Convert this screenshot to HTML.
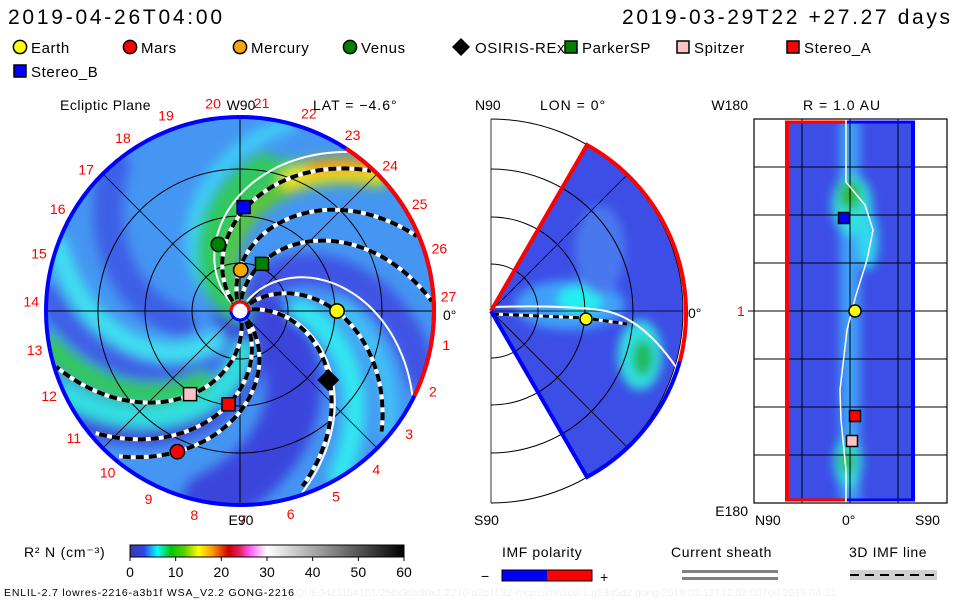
<!DOCTYPE html>
<html><head><meta charset="utf-8"><style>
body{margin:0;background:#fff;width:960px;height:600px;overflow:hidden;font-family:"Liberation Sans",sans-serif}
svg text{font-family:"Liberation Sans",sans-serif}
</style></head><body>
<svg id="s" width="960" height="600" viewBox="0 0 960 600" xmlns="http://www.w3.org/2000/svg">
<defs>
<filter id="bl" x="-20%" y="-20%" width="140%" height="140%"><feGaussianBlur stdDeviation="6"/></filter>
<filter id="bl2" x="-50%" y="-50%" width="200%" height="200%"><feGaussianBlur stdDeviation="5"/></filter>
<clipPath id="cc"><circle cx="240" cy="311" r="194"/></clipPath>
<clipPath id="wc"><path d="M491,311 L587,145 A192,192 0 0 1 587,477 Z"/></clipPath>
<clipPath id="rc"><rect x="785" y="121" width="130" height="380"/></clipPath>
<linearGradient id="cb" x1="0" x2="1" y1="0" y2="0">
<stop offset="0" stop-color="#3c3ca0"/><stop offset="0.05" stop-color="#3040f0"/><stop offset="0.1" stop-color="#00ffff"/><stop offset="0.15" stop-color="#00c800"/><stop offset="0.2" stop-color="#60d000"/><stop offset="0.25" stop-color="#ffff00"/><stop offset="0.3" stop-color="#ff9900"/><stop offset="0.36" stop-color="#d00000"/><stop offset="0.4" stop-color="#e02060"/><stop offset="0.44" stop-color="#ff60ff"/><stop offset="0.48" stop-color="#ffd0ff"/><stop offset="0.5" stop-color="#ffffff"/><stop offset="1" stop-color="#000000"/>
</linearGradient>
</defs>
<g id="g"></g>
</svg>
<script>
// ---- data ----
const bodyNames=["Earth","Mars","Mercury","Venus","OSIRIS-REx","ParkerSP","Spitzer","Stereo_A","Stereo_B"];
const bodyAngles=[0,-114,89,108,-38,65,-121,-97,88];   // ecliptic longitude (deg, screen)
const bodyRadii=[97,154,41,70,112,52,97,94,104];        // px from sun
const bodyColors=["#ffff00","#ff0000","#ffa500","#008000","#000000","#008000","#ffc0cb","#ff0000","#0000ff"];
const bodyShapes=["c","c","c","c","d","s","s","s","s"];
const imfLineOuter=[46,22,2,-44,-74,-132,-142,-164];
const imfLineEnd=[194,194,194,187,188,190,190,194];
const sheetOuter=[55,-27,-72];
const cbTicks=[0,10,20,30,40,50,60];
const dayLabels=[27,1,2,3,4,5,6,7,8,9,10,11,12,13,14,15,16,17,18,19,20,21,22,23,24,25,26];
// -----------
const NS="http://www.w3.org/2000/svg", G=document.getElementById('g');
const cx=240,cy=311,R=194,K=0.45;
function el(t,a,p){const e=document.createElementNS(NS,t);for(const k in a)e.setAttribute(k,a[k]);(p||G).appendChild(e);return e;}
function spiral(phiOut,r0,r1){let d="";for(let r=r0;r<=r1;r+=3){const f=(phiOut+K*(R-r))*Math.PI/180;d+=(d?"L":"M")+(cx+r*Math.cos(f)).toFixed(1)+","+(cy-r*Math.sin(f)).toFixed(1);}return d;}
function pol(a,r){const f=a*Math.PI/180;return [cx+r*Math.cos(f),cy-r*Math.sin(f)];}
function txt(x,y,s,o,p){const e=el('text',Object.assign({x:x,y:y,'font-size':15,fill:'#000'},o||{}),p);e.textContent=s;return e;}

// header
let t=txt(8,24,"2019-04-26T04:00",{'font-size':21,textLength:214,lengthAdjust:'spacing'});
t=txt(622,24,"2019-03-29T22 +27.27 days",{'font-size':21,textLength:328,lengthAdjust:'spacing'});
// legend
const legX=[20,130,240,350,461,571,683,793,20],legY=[48,48,48,48,48,48,48,48,72];
function marker(shape,x,y,col,sz,parent){let e;
 if(shape=="c")e=el('circle',{cx:x,cy:y,r:sz*0.55,fill:col,stroke:'#000','stroke-width':1.5},parent);
 else if(shape=="d")e=el('path',{d:`M${x},${y-sz}L${x+sz},${y}L${x},${y+sz}L${x-sz},${y}Z`,fill:col},parent);
 else e=el('rect',{x:x-sz*0.5,y:y-sz*0.5,width:sz,height:sz,fill:col,stroke:'#000','stroke-width':1.5},parent);return e;}
for(let i=0;i<bodyNames.length;i++){
 const lg=el('g',{});
 marker(bodyShapes[i],legX[i],legY[i]-1,bodyColors[i],bodyShapes[i]=="d"?9:12,lg);
 const tt=el('text',{x:legX[i]+(i==4?14:11),y:legY[i]+5,'font-size':15,'letter-spacing':0.6},lg);tt.textContent=bodyNames[i];}

// ===== ecliptic panel =====
const ep=el('g',{});
const fld=el('g',{'clip-path':'url(#cc)'},ep);
el('circle',{cx:cx,cy:cy,r:R,fill:'#4596f2'},fld);
const bl=el('g',{filter:'url(#bl)'},fld);
const bands=[[-100,55,'#3a44dc',0,194],[-150,40,'#3c48d8',0,194],[-20,32,'#3f52e4',40,194],[130,30,'#3c5ee6',60,194],[175,26,'#3f5ee6',60,194],
[-60,22,'#30e8f0',60,194],[-40,14,'#40c8f8',100,194],[160,20,'#40e0f0',40,194],[205,22,'#30e0e0',40,194],[75,14,'#40d0f8',40,194],
[190,22,'#30c858',80,194],[60,26,'#30c860',10,150],[45,28,'#60c820',20,194],[52,22,'#30c860',0,150],[45,20,'#f0e020',140,194],[48,10,'#ff8a10',160,194]];
for(const b of bands)el('path',{d:spiral(b[0],b[3],b[4]),fill:'none',stroke:b[2],'stroke-width':b[1],'stroke-linecap':'round'},bl);
// grid rings
for(const rr of [48,95,142])el('circle',{cx:cx,cy:cy,r:rr,fill:'none',stroke:'#000','stroke-width':1},ep);
el('path',{d:`M${cx-R},${cy}H${cx+R}M${cx},${cy-R}V${cy+R}`,stroke:'#000','stroke-width':1},ep);
const d1=pol(135,R),d2=pol(-45,R),d3=pol(45,R),d4=pol(-135,R);
el('path',{d:`M${d1}L${d2}M${d3}L${d4}`,stroke:'#000','stroke-width':0.8},ep);
// current sheet
for(const a of sheetOuter){const p=el('path',{d:spiral(a,12,194),fill:'none',stroke:'#fff','stroke-width':2},ep);}
// imf lines
for(let i=0;i<imfLineOuter.length;i++){const d=spiral(imfLineOuter[i],12,imfLineEnd[i]);
 el('path',{d:d,fill:'none',stroke:'#fff','stroke-width':4},ep);
 const p=el('path',{d:d,fill:'none',stroke:'#000','stroke-width':4,'stroke-dasharray':'8 5'},ep);}
// rim
el('circle',{cx:cx,cy:cy,r:R,fill:'none',stroke:'#0000ff','stroke-width':4},ep);
const ra=pol(57,R),rb=pol(-26,R);
el('path',{d:`M${ra}A${R},${R} 0 0 1 ${rb}`,fill:'none',stroke:'#ff0000','stroke-width':4},ep);
// sun
el('circle',{cx:cx,cy:cy,r:9,fill:'#fff',stroke:'#0000ff','stroke-width':3},ep);
el('path',{d:`M${cx-9},${cy}A9,9 0 0 1 ${cx+9},${cy}`,fill:'none',stroke:'#f00','stroke-width':3},ep);
// bodies
for(let i=0;i<bodyNames.length;i++){const [x,y]=pol(bodyAngles[i],bodyRadii[i]);
 const m=marker(bodyShapes[i],x,y,bodyColors[i],bodyShapes[i]=="d"?11:13,ep);
 }
// day labels
for(let n=0;n<dayLabels.length;n++){const [x,y]=pol(4-13.33*n,209);
 const e=txt(x,y+5,String(dayLabels[n]),{fill:'#ff0000','font-size':14,'text-anchor':'middle'});}
txt(60,110,"Ecliptic Plane",{'font-size':14,'letter-spacing':0.5});txt(241,110,"W90",{'font-size':14,'text-anchor':'middle'});
txt(313,110,"LAT = −4.6°",{'font-size':14,'letter-spacing':1});txt(241,525,"E90",{'font-size':14,'text-anchor':'middle'});
txt(443,320,"0°",{'font-size':14});

// ===== meridional panel =====
const mp=el('g',{});
const mx=491,my=311;
const mf=el('g',{'clip-path':'url(#wc)'},mp);
el('rect',{x:480,y:130,width:220,height:360,fill:'#3c4ee6'},mf);
const mb=el('g',{filter:'url(#bl2)'},mf);
el('ellipse',{cx:570,cy:305,rx:55,ry:25,fill:'#40a0f8'},mb);
el('ellipse',{cx:580,cy:300,rx:22,ry:14,fill:'#20f0f0'},mb);
el('ellipse',{cx:640,cy:355,rx:22,ry:35,fill:'#30e0e0'},mb);
el('ellipse',{cx:643,cy:358,rx:10,ry:18,fill:'#20b850'},mb);
el('ellipse',{cx:600,cy:250,rx:25,ry:45,fill:'#4878ee'},mb);
for(const rr of [47,94,142,192])el('path',{d:`M${mx},${my-rr}A${rr},${rr} 0 0 1 ${mx},${my+rr}`,fill:'none',stroke:'#000','stroke-width':1},mp);
el('path',{d:`M${mx},${my-192}V${my+192}M${mx},${my}H${mx+192}M${mx},${my}L${mx+135},${my-135}M${mx},${my}L${mx+135},${my+135}`,stroke:'#000','stroke-width':0.8},mp);
el('path',{d:`M${mx+2},${my-4}Q560,305 600,310T676,367`,fill:'none',stroke:'#fff','stroke-width':2},mp);
el('path',{d:`M${mx+2},${my+3}L585,318L627,324`,fill:'none',stroke:'#fff','stroke-width':3},mp);
el('path',{d:`M${mx+2},${my+3}L585,318L627,324`,fill:'none',stroke:'#000','stroke-width':3,'stroke-dasharray':'6 4'},mp);
el('path',{d:`M${mx},${my}L587,145A192,192 0 0 1 680,361`,fill:'none',stroke:'#ff0000','stroke-width':4},mp);
el('path',{d:`M680,361A192,192 0 0 1 587,477L${mx},${my}`,fill:'none',stroke:'#0000ff','stroke-width':4},mp);
el('circle',{cx:586,cy:319,r:6,fill:'#ffff00',stroke:'#000','stroke-width':1.5},mp);
txt(475,110,"N90",{'font-size':14});txt(540,110,"LON = 0°",{'font-size':14,'letter-spacing':1});
txt(474,525,"S90",{'font-size':14});txt(688,318,"0°",{'font-size':14});

// ===== R=1AU panel =====
const rp=el('g',{});
const rf=el('g',{'clip-path':'url(#rc)'},rp);
el('rect',{x:785,y:119,width:130,height:384,fill:'#3c4ee6'},rf);
const rb2=el('g',{filter:'url(#bl2)'},rf);
el('rect',{x:840,y:119,width:20,height:384,fill:'#40a0f8'},rb2);
el('ellipse',{cx:852,cy:205,rx:20,ry:30,fill:'#30e0e0'},rb2);
el('ellipse',{cx:850,cy:195,rx:11,ry:15,fill:'#30b830'},rb2);
el('ellipse',{cx:868,cy:240,rx:10,ry:30,fill:'#30d8f0'},rb2);
el('ellipse',{cx:848,cy:462,rx:14,ry:25,fill:'#30e0e0'},rb2);
el('ellipse',{cx:847,cy:462,rx:8,ry:12,fill:'#30b850'},rb2);
el('rect',{x:754,y:119,width:193,height:384,fill:'none',stroke:'#000','stroke-width':1.2},rp);
for(let k=1;k<8;k++)el('line',{x1:754,x2:947,y1:119+48*k,y2:119+48*k,stroke:'#000','stroke-width':1},rp);
for(const x of [802,850,898])el('line',{x1:x,x2:x,y1:119,y2:503,stroke:'#000','stroke-width':1},rp);
el('line',{x1:748,x2:754,y1:311,y2:311,stroke:'#000'},rp);
el('path',{d:"M846,121V182L865,205L873,230L867,260L856,295L847,330L840,390L841,420L846,470L846,501",fill:'none',stroke:'#fff','stroke-width':1.5},rp);
el('path',{d:"M787,121V501",stroke:'#ff0000','stroke-width':4},rp);
el('path',{d:"M913,121V501",stroke:'#0000ff','stroke-width':4},rp);
el('path',{d:"M785,122H845M785,500H845",stroke:'#ff0000','stroke-width':3},rp);
el('path',{d:"M847,122H915M847,500H915",stroke:'#0000ff','stroke-width':3},rp);
marker('s',844,218,'#0000ff',11,rp);marker('c',855,311,'#ffff00',11,rp);marker('s',855,416,'#ff0000',11,rp);marker('s',852,441,'#ffc0cb',11,rp);
txt(748,110,"W180",{'font-size':14,'text-anchor':'end'});txt(803,110,"R = 1.0 AU",{'font-size':14,'letter-spacing':1});
txt(748,516,"E180",{'font-size':14,'text-anchor':'end'});txt(755,525,"N90",{'font-size':14});txt(842,525,"0°",{'font-size':14});txt(915,525,"S90",{'font-size':14});
txt(737,316,"1",{'font-size':14,fill:'#ff0000'});

// ===== colorbar =====
const cbg=el('g',{});
el('rect',{x:130,y:545,width:274,height:12,fill:'url(#cb)',stroke:'#000','stroke-width':1},cbg);
for(const v of cbTicks){const x=130+v/60*274;el('line',{x1:x,x2:x,y1:557,y2:561,stroke:'#000'},cbg);
 const e=txt(x,577,String(v),{'font-size':14,'text-anchor':'middle'},cbg);}
t=txt(24,557,"R² N (cm⁻³)",{'font-size':14,'letter-spacing':0.8});
txt(4,596,"ENLIL-2.7 lowres-2216-a3b1f WSA_V2.2 GONG-2216",{'font-size':10.5,textLength:290,lengthAdjust:'spacing'});
txt(296,596,"QUE0421154101/256x30x90x1.2216-a3b1f.32-mcp1umn1cd-1.g53q5d2.gong-2019:03:12T12:02:00T00    2019-04-21",{'font-size':10.5,fill:'#f0f0f0'});
// IMF polarity legend
const il=el('g',{});
txt(502,557,"IMF polarity",{'font-size':14,'letter-spacing':0.6},il);txt(481,581,"−",{'font-size':14},il);txt(600,582,"+",{'font-size':14},il);
el('rect',{x:502,y:570,width:45,height:11,fill:'#0000ff'},il);el('rect',{x:547,y:570,width:45,height:11,fill:'#ff0000'},il);
el('rect',{x:502,y:570,width:90,height:11,fill:'none',stroke:'#000'},il);
const cs=el('g',{});
txt(671,557,"Current sheath",{'font-size':14,'letter-spacing':0.6},cs);
el('rect',{x:682,y:570,width:96,height:3,fill:'#808080'},cs);el('rect',{x:682,y:577,width:96,height:3,fill:'#808080'},cs);
const im=el('g',{});
txt(849,557,"3D IMF line",{'font-size':14,'letter-spacing':0.6},im);
el('rect',{x:850,y:570,width:87,height:10,fill:'#d0d0d0'},im);
el('line',{x1:850,x2:937,y1:575,y2:575,stroke:'#000','stroke-width':2,'stroke-dasharray':'9 6'},im);
</script>
</body></html>
